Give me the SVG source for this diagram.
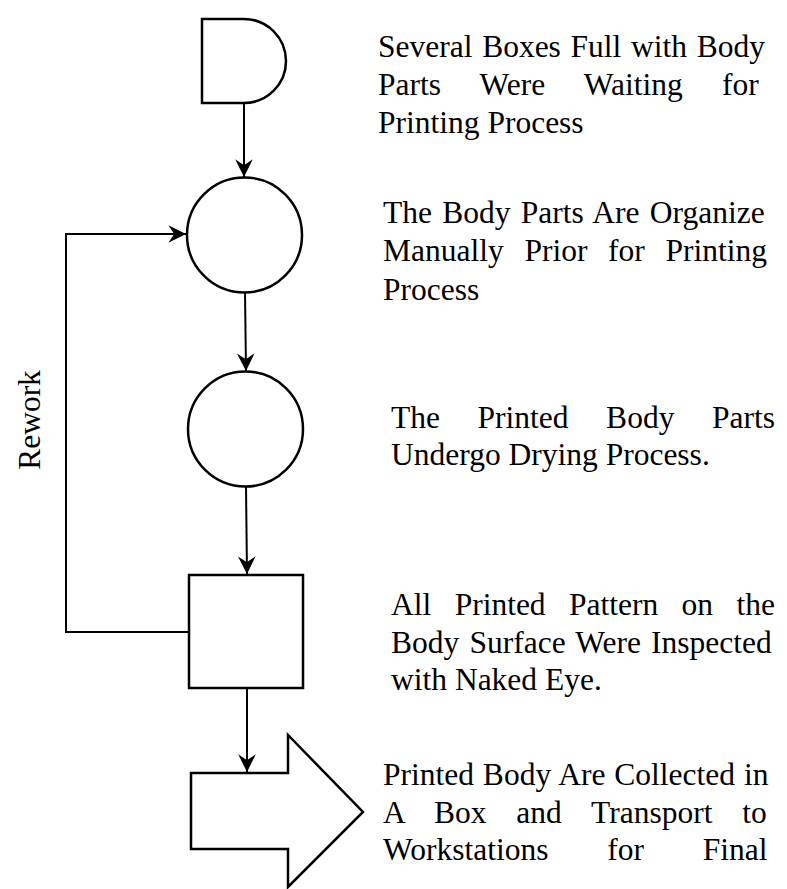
<svg xmlns="http://www.w3.org/2000/svg" width="787" height="889" viewBox="0 0 787 889">
  <style>
    .shape { fill: #fff; stroke: #000; stroke-width: 2.5; stroke-linejoin: miter; }
    .conn { fill: none; stroke: #000; stroke-width: 2; }
    .lbl { font-family: "Liberation Serif", "Times New Roman", serif; font-size: 31.5px; fill: #000; }
  </style>
  <defs>
    <marker id="arr" markerUnits="userSpaceOnUse" markerWidth="20" markerHeight="20" viewBox="-16 -8 17 16" refX="0" refY="0" orient="auto">
      <path d="M0,0 L-15,-7.5 L-10,0 L-15,7.5 Z" fill="#000"/>
    </marker>
  </defs>
  <rect width="787" height="889" fill="#fff"/>

  <!-- connectors -->
  <g id="connectors">
    <line class="conn" x1="244" y1="103" x2="244" y2="177" marker-end="url(#arr)"/>
    <line class="conn" x1="245" y1="292" x2="246" y2="371" marker-end="url(#arr)"/>
    <line class="conn" x1="246" y1="486" x2="247" y2="574" marker-end="url(#arr)"/>
    <line class="conn" x1="247" y1="688" x2="247" y2="772" marker-end="url(#arr)"/>
    <polyline class="conn" points="189,632 66,632 66,234 186,234" marker-end="url(#arr)"/>
  </g>

  <!-- delay -->
  <g id="delay">
    <path class="shape" d="M202,19 H244 A42,42 0 0 1 244,103 H202 Z"/>
  </g>

  <!-- operation: organize -->
  <g id="organize">
    <circle class="shape" cx="244.5" cy="235" r="57.5"/>
  </g>

  <!-- operation: drying -->
  <g id="drying">
    <circle class="shape" cx="245.5" cy="429" r="57.5"/>
  </g>

  <!-- inspection -->
  <g id="inspection">
    <rect class="shape" x="189" y="575" width="114" height="113"/>
  </g>

  <!-- transport -->
  <g id="transport">
    <path class="shape" d="M191,773 H288 V735 L363,812 L288,887 V849 H191 Z"/>
  </g>

  <!-- rework label -->
  <g id="rework-label">
    <text class="lbl" text-anchor="middle" transform="translate(40,420) rotate(-90)">Rework</text>
  </g>

  <!-- descriptions (justified lines use word-spacing) -->
  <g id="desc-delay">
    <text class="lbl" x="378" y="57" word-spacing="1.8">Several Boxes Full with Body</text>
    <text class="lbl" x="378" y="95" word-spacing="31.3">Parts Were Waiting for</text>
    <text class="lbl" x="378" y="133">Printing Process</text>
  </g>

  <g id="desc-organize">
    <text class="lbl" x="383" y="223" word-spacing="2.4">The Body Parts Are Organize</text>
    <text class="lbl" x="383" y="261" word-spacing="12.8">Manually Prior for Printing</text>
    <text class="lbl" x="383" y="300">Process</text>
  </g>

  <g id="desc-drying">
    <text class="lbl" x="391" y="428" word-spacing="29.7">The Printed Body Parts</text>
    <text class="lbl" x="391" y="465">Undergo Drying Process.</text>
  </g>

  <g id="desc-inspection">
    <text class="lbl" x="391" y="615" word-spacing="15.5">All Printed Pattern on the</text>
    <text class="lbl" x="391" y="653" word-spacing="2.3">Body Surface Were Inspected</text>
    <text class="lbl" x="391" y="690">with Naked Eye.</text>
  </g>

  <g id="desc-transport">
    <text class="lbl" x="383" y="785" word-spacing="1">Printed Body Are Collected in</text>
    <text class="lbl" x="383" y="823" word-spacing="22">A Box and Transport to</text>
    <text class="lbl" x="383" y="860" word-spacing="50.9">Workstations for Final</text>
  </g>
</svg>
